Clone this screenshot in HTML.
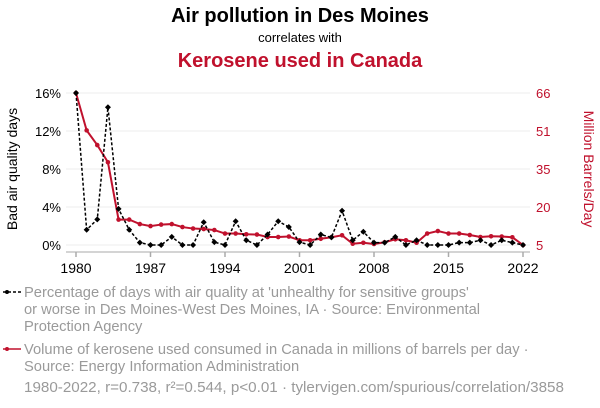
<!DOCTYPE html>
<html><head><meta charset="utf-8"><style>
body{margin:0;width:600px;height:408px;background:#fff;font-family:"Liberation Sans",sans-serif;overflow:hidden}
</style></head><body>
<svg width="600" height="408" style="position:absolute;left:0;top:0">
<text x="300" y="22" text-anchor="middle" font-size="20" font-weight="bold" fill="#000">Air pollution in Des Moines</text>
<text x="300" y="42" text-anchor="middle" font-size="13" fill="#000">correlates with</text>
<text x="300" y="67" text-anchor="middle" font-size="20" font-weight="bold" fill="#c0112d">Kerosene used in Canada</text>
<g id="grid"></g><g id="axes"></g><g id="series"></g>
<text transform="translate(17,169) rotate(-90)" text-anchor="middle" font-size="14" fill="#000">Bad air quality days</text>
<text transform="translate(584,169) rotate(90)" text-anchor="middle" font-size="14" fill="#c0112d">Million Barrels/Day</text>
<g>
<line x1="3" y1="292" x2="21" y2="292" stroke="#000" stroke-width="1.5" stroke-dasharray="3,2"/>
<circle cx="7" cy="292" r="2" fill="#000"/>
<text font-size="14.7" fill="#9a9a9a"><tspan x="24" y="297">Percentage of days with air quality at 'unhealthy for sensitive groups'</tspan><tspan x="24" y="314">or worse in Des Moines-West Des Moines, IA · Source: Environmental</tspan><tspan x="24" y="331">Protection Agency</tspan></text>
</g>
<g>
<line x1="3" y1="349" x2="21" y2="349" stroke="#c0112d" stroke-width="1.5"/>
<circle cx="7" cy="349" r="2" fill="#c0112d"/>
<text font-size="14.7" fill="#9a9a9a"><tspan x="24" y="354">Volume of kerosene used consumed in Canada in millions of barrels per day ·</tspan><tspan x="24" y="371">Source: Energy Information Administration</tspan></text>
</g>
<text x="24" y="392" font-size="15.2" fill="#9a9a9a">1980-2022, r=0.738, r²=0.544, p&lt;0.01 · tylervigen.com/spurious/correlation/3858</text>
</svg>
<script>
const years=[];for(let y=1980;y<=2022;y++)years.push(y);
const airValues=[16,1.6,2.7,14.5,3.8,1.6,0.25,0,0,0.85,0,0,2.4,0.3,0,2.5,0.5,0,1.1,2.5,1.9,0.3,0,1.1,0.8,3.6,0.5,1.4,0.25,0.25,0.85,0,0.5,0,0,0,0.25,0.25,0.5,0,0.5,0.25,0];
const keroValues=[66,51,45.1,38.2,15.2,15.2,13.4,12.6,13.2,13.4,12.2,11.6,11.4,11,9.6,9.6,9.3,9.2,8.2,8.2,8.4,6.9,6.9,7.5,8.1,8.9,5.5,5.9,5.4,6.1,7.3,6.9,5.9,9.6,10.6,9.6,9.6,9,8.2,8.5,8.4,8.1,5];
const leftTicks=[0,4,8,12,16];const leftTickLabels=["0%","4%","8%","12%","16%"];
const rightTicks=[5,20.25,35.5,50.75,66];const rightTickLabels=["5","20","35","51","66"];
const xTicks=[1980,1987,1994,2001,2008,2015,2022];
const NS="http://www.w3.org/2000/svg";
const X=y=>76+(y-1980)*(523-76)/42;
const YL=v=>245-v*(245-93)/16;
const YR=v=>245-(v-5)*(245-93)/61;
function mk(tag,attrs,parent){const e=document.createElementNS(NS,tag);for(const k in attrs)e.setAttribute(k,attrs[k]);parent.appendChild(e);return e;}
const grid=document.getElementById('grid'),axes=document.getElementById('axes'),ser=document.getElementById('series');
leftTicks.forEach((t,i)=>{
 const l=mk('line',{x1:66,x2:530,y1:YL(t),y2:YL(t),stroke:'#eee','stroke-width':1},grid);
 
 
 const tx=mk('text',{x:61,y:YL(t)+5,'text-anchor':'end','font-size':13,fill:'#000'},axes);tx.textContent=leftTickLabels[i];
 
 
});
rightTicks.forEach((t,i)=>{
 const tx=mk('text',{x:536,y:YR(t)+5,'font-size':13,fill:'#c0112d'},axes);tx.textContent=rightTickLabels[i];
 
 
});
const ax=mk('line',{x1:66,x2:530,y1:252,y2:252,stroke:'#aaa','stroke-width':1},axes);


xTicks.forEach(t=>{
 const tk=mk('line',{x1:X(t),x2:X(t),y1:252,y2:257,stroke:'#aaa','stroke-width':1.5},axes);
 
 
 const tx=mk('text',{x:X(t),y:273,'text-anchor':'middle','font-size':14,fill:'#000'},axes);tx.textContent=t;
 
 
});
const kp=mk('polyline',{points:years.map((y,i)=>X(y)+','+YR(keroValues[i])).join(' '),fill:'none',stroke:'#c0112d','stroke-width':2},ser);


years.forEach((y,i)=>{const c=mk('circle',{cx:X(y),cy:YR(keroValues[i]),r:2.3,fill:'#c0112d'},ser);
 
 });
const ap=mk('polyline',{points:years.map((y,i)=>X(y)+','+YL(airValues[i])).join(' '),fill:'none',stroke:'#000','stroke-width':1.5,'stroke-dasharray':'3,2'},ser);


years.forEach((y,i)=>{const px=X(y),py=YL(airValues[i]);
 const d=mk('polygon',{points:`${px},${py-3} ${px+3},${py} ${px},${py+3} ${px-3},${py}`,fill:'#000'},ser);
 
 });
</script>
</body></html>
